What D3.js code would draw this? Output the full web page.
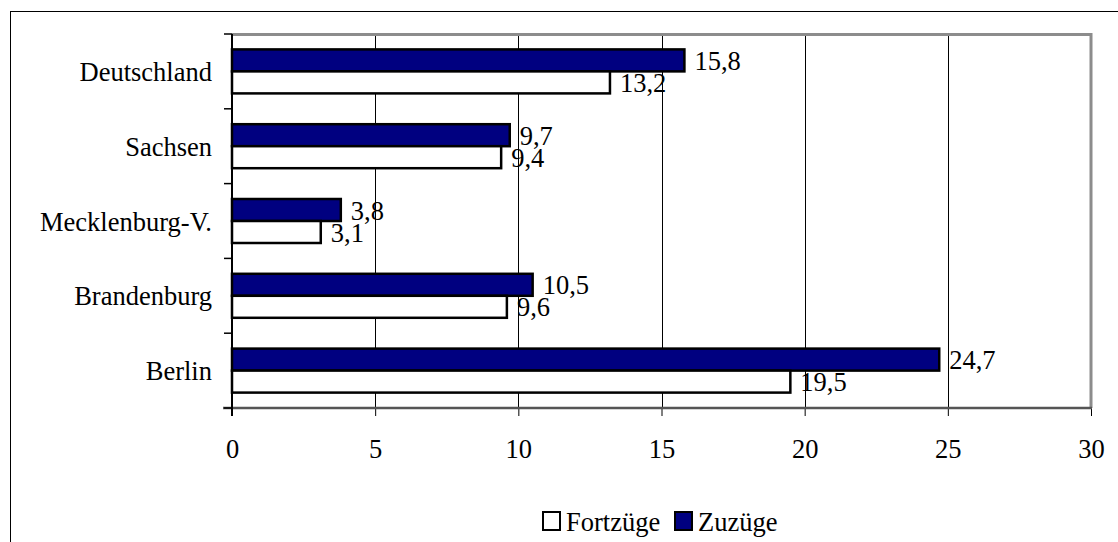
<!DOCTYPE html>
<html>
<head>
<meta charset="utf-8">
<script src="https://cdn.jsdelivr.net/npm/d3@7"></script>
<style>
body { margin: 0; background: #fff; }
text { font-family: "Liberation Serif", "Times New Roman", serif; fill: #000; }
</style>
</head>
<body>
<div id="container"></div>
<script>
// data
const categories = ["Deutschland", "Sachsen", "Mecklenburg-V.", "Brandenburg", "Berlin"];
const zuzuege = [15.8, 9.7, 3.8, 10.5, 24.7];
const fortzuege = [13.2, 9.4, 3.1, 9.6, 19.5];
const seriesNames = ["Zuzüge", "Fortzüge"];
const xTicks = [0, 5, 10, 15, 20, 25, 30];
const legendNames = ["Fortzüge", "Zuzüge"];

const width = 1118;
const height = 542;
const fontSize = 26.5;

const plotLeft = 232, plotRight = 1091, plotTop = 34, plotBottom = 408;
const fill = { "Zuzüge": "#000080", "Fortzüge": "#ffffff" };

const rows = categories.map(function(c, i) {
    return { cat: c, "Zuzüge": zuzuege[i], "Fortzüge": fortzuege[i] };
});

const svg = d3.select("div#container").append("svg")
    .attr("width", width)
    .attr("height", height);

// outer chart border (runs off the right/bottom edge)
svg.append("rect")
    .attr("x", 10.5).attr("y", 11.5)
    .attr("width", width + 20).attr("height", height + 20)
    .attr("fill", "#fff").attr("stroke", "#000").attr("stroke-width", 1);

//----------------------------SCALES----------------------------//
const xScale = d3.scaleLinear().domain([0, 30]).range([plotLeft, plotRight]);
const yScale = d3.scaleBand().domain(categories).range([plotTop, plotBottom]);
const subScale = d3.scaleBand().domain(seriesNames)
    .range([0, yScale.bandwidth()]).paddingOuter(0.7);

//----------------------------GRID------------------------------//
svg.append("g").selectAll("line")
    .data(xTicks.slice(1, -1))
    .enter().append("line")
    .attr("x1", d => Math.round(xScale(d)) + 0.5).attr("x2", d => Math.round(xScale(d)) + 0.5)
    .attr("y1", plotTop).attr("y2", plotBottom)
    .attr("stroke", "#000").attr("stroke-width", 1);

// plot frame top/right in gray
svg.append("path")
    .attr("d", "M" + plotLeft + "," + (plotTop + 0.5) + "H" + plotRight + "V" + plotBottom)
    .attr("fill", "none").attr("stroke", "#8c8c8c").attr("stroke-width", 3);

//-----------------------------BARS-----------------------------//
const groups = svg.append("g").selectAll("g")
    .data(rows)
    .enter().append("g")
    .attr("transform", d => "translate(0," + yScale(d.cat) + ")");

groups.selectAll("rect")
    .data(d => seriesNames.map(s => ({ key: s, value: d[s] })))
    .enter().append("rect")
    .attr("x", xScale(0))
    .attr("y", d => subScale(d.key))
    .attr("width", d => xScale(d.value) - xScale(0))
    .attr("height", subScale.bandwidth())
    .attr("fill", d => fill[d.key])
    .attr("stroke", "#000").attr("stroke-width", 2.5);

groups.selectAll("text")
    .data(d => seriesNames.map(s => ({ key: s, value: d[s] })))
    .enter().append("text")
    .attr("x", d => xScale(d.value) + 10)
    .attr("y", d => subScale(d.key) + subScale.bandwidth() / 2)
    .attr("dy", "0.36em")
    .style("font-size", fontSize + "px")
    .text(d => d3.format(".1f")(d.value).replace(".", ","));

//-----------------------------AXES-----------------------------//
const xaxis = d3.axisBottom(xScale)
    .tickValues(xTicks)
    .tickSize(8)
    .tickPadding(23)
    .tickFormat(d3.format("d"));

const gx = svg.append("g")
    .attr("transform", "translate(0," + plotBottom + ")")
    .call(xaxis);
gx.select(".domain").remove();
gx.selectAll("line").attr("stroke", "#000").attr("stroke-width", 1);
gx.selectAll("text").style("font-size", fontSize + "px")
    .style("font-family", "Liberation Serif");
svg.append("line")
    .attr("x1", plotLeft - 9).attr("x2", plotRight + 1)
    .attr("y1", plotBottom).attr("y2", plotBottom)
    .attr("stroke", "#555").attr("stroke-width", 2.5);

const yBounds = categories.map(c => yScale(c)).concat([plotBottom]);
svg.append("g").selectAll("line")
    .data(yBounds)
    .enter().append("line")
    .attr("x1", plotLeft - 8).attr("x2", plotLeft)
    .attr("y1", d => d).attr("y2", d => d)
    .attr("stroke", "#000").attr("stroke-width", 1.5);
svg.append("line")
    .attr("x1", plotLeft).attr("x2", plotLeft)
    .attr("y1", plotTop).attr("y2", plotBottom + 8)
    .attr("stroke", "#000").attr("stroke-width", 2);

svg.append("g").selectAll("text")
    .data(categories)
    .enter().append("text")
    .attr("x", 212)
    .attr("y", d => yScale(d) + yScale.bandwidth() / 2)
    .attr("dy", "0.36em")
    .attr("text-anchor", "end")
    .style("font-size", fontSize + "px")
    .text(d => d);

//----------------------------LEGEND----------------------------//
const legendX = [543, 675];
const legend = svg.append("g").selectAll("g")
    .data(legendNames)
    .enter().append("g")
    .attr("transform", (d, i) => "translate(" + legendX[i] + ",512)");
legend.append("rect")
    .attr("width", 17).attr("height", 18)
    .attr("fill", d => fill[d])
    .attr("stroke", "#000").attr("stroke-width", 2);
legend.append("text")
    .attr("x", 23).attr("y", 19)
    .style("font-size", fontSize + "px")
    .text(d => d);
</script>
</body>
</html>
